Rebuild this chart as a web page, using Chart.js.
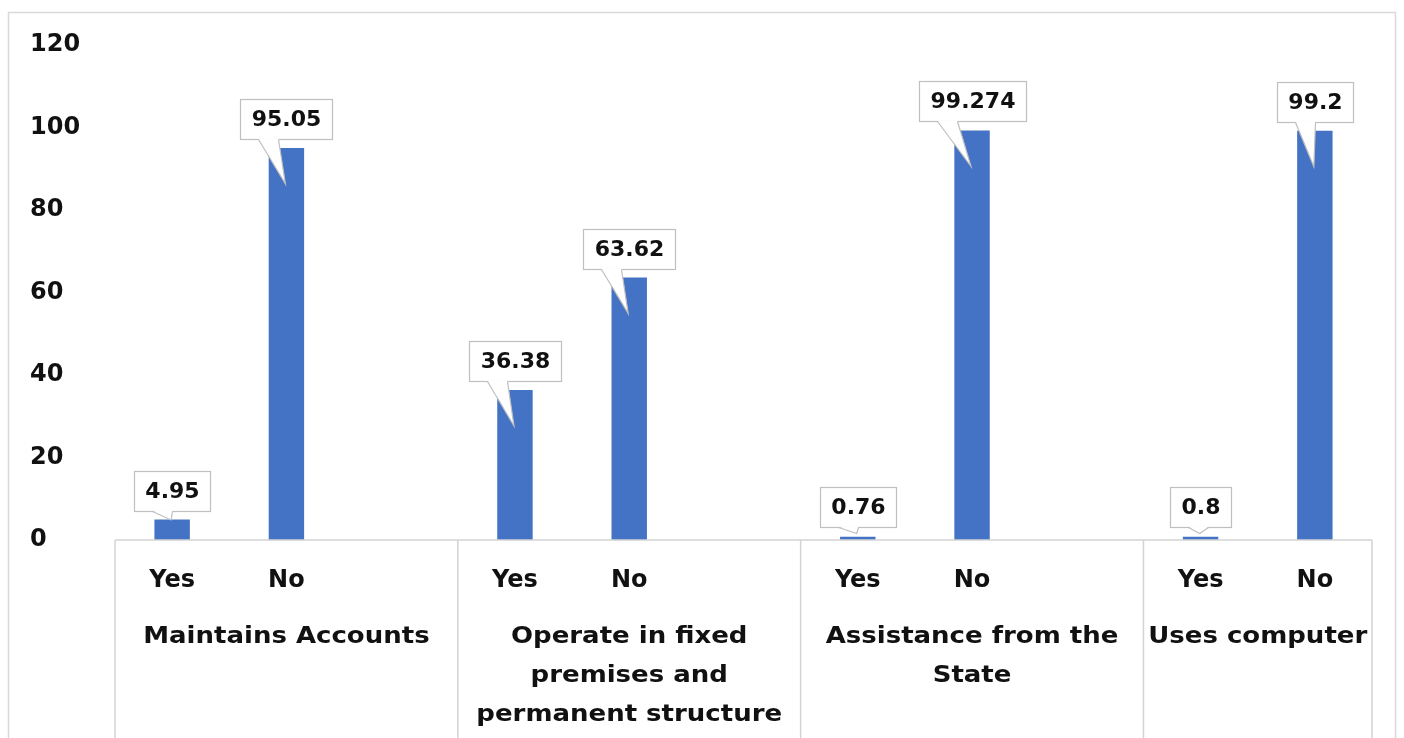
<!DOCTYPE html>
<html>
<head>
<meta charset="utf-8">
<script src="https://cdn.jsdelivr.net/npm/chart.js@4.4.1/dist/chart.umd.min.js"></script>
<style>
  body { margin: 0; background: #fff; }
  #wrap { width: 1404px; height: 738px; }
</style>
</head>
<body>
<div id="wrap"><canvas id="myChart" width="1404" height="738"></canvas></div>
<script>
let ctx = document.getElementById("myChart").getContext("2d");

// one slot per answer; the blank slot leaves a gap at the end of a group
let answers = ["Yes", "No", "", "Yes", "No", "", "Yes", "No", "", "Yes", "No"];
let shares = [4.95, 95.05, null, 36.38, 63.62, null, 0.76, 99.274, null, 0.8, 99.2];
let groupSpans = [3, 3, 3, 2];
let groupNames = [
  ["Maintains Accounts"],
  ["Operate in fixed", "premises and", "permanent structure"],
  ["Assistance from the", "State"],
  ["Uses computer"],
];

let fontFamily = "'DejaVu Sans', sans-serif";
let font = { family: fontFamily, weight: "bold", size: 22 };
let tickFont = { family: fontFamily, weight: "bold", size: 24 };
let textColor = "#111";
let lineColor = "#d4d4d4";
let barColor = "#4472c4";

// white page with the thin outer frame
const frame = {
  id: "frame",
  beforeDraw(chart) {
    const c = chart.ctx;
    c.save();
    c.fillStyle = "#fff";
    c.fillRect(0, 0, chart.width, chart.height);
    c.strokeStyle = "#d9d9d9";
    c.lineWidth = 1.5;
    c.strokeRect(8.5, 12.5, chart.width - 17, chart.height + 20);
    c.restore();
  },
};

// axis line, group separators and the group names under Yes / No
const groupAxis = {
  id: "groupAxis",
  afterDraw(chart) {
    const x = chart.scales.x;
    const area = chart.chartArea;
    const slot = x.width / answers.length;
    const c = chart.ctx;
    let edges = [];
    let start = 0;
    groupSpans.forEach((n) => {
      edges.push(x.getPixelForValue(start) - slot / 2);
      start += n;
    });
    edges.push(x.getPixelForValue(start - 1) + slot / 2);

    c.save();
    c.strokeStyle = lineColor;
    c.lineWidth = 1.5;
    c.beginPath();
    c.moveTo(area.left, area.bottom);
    c.lineTo(area.right, area.bottom);
    edges.forEach((e) => {
      c.moveTo(e, area.bottom);
      c.lineTo(e, chart.height);
    });
    c.stroke();

    // the names run a bit wider than the font, so stretch them sideways
    const stretch = 1.13;
    c.font = `bold 23px ${fontFamily}`;
    c.fillStyle = textColor;
    c.textAlign = "center";
    c.textBaseline = "middle";
    groupNames.forEach((lines, i) => {
      const mid = (edges[i] + edges[i + 1]) / 2;
      lines.forEach((t, j) => {
        c.save();
        c.translate(mid, area.bottom + 97 + j * 39);
        c.scale(stretch, 1);
        c.fillText(t, 0, 0);
        c.restore();
      });
    });
    c.restore();
  },
};

// value labels in callout boxes pointing at each bar
const callouts = {
  id: "callouts",
  afterDatasetsDraw(chart) {
    const c = chart.ctx;
    const base = chart.scales.y.getPixelForValue(0);
    const meta = chart.getDatasetMeta(0);
    c.save();
    c.font = `bold ${font.size}px ${fontFamily}`;
    meta.data.forEach((bar, i) => {
      const v = shares[i];
      if (v == null) return;
      const text = String(v);
      const w = Math.round(c.measureText(text).width + 22);
      const h = 40;
      const bottom = Math.round(Math.min(bar.y - 9, base - 13)) + 0.5;
      const top = bottom - h;
      const left = Math.round(bar.x - w / 2) + 0.5;
      const tipX = bar.x - 1;
      const tipY = Math.max(bottom + 6, Math.min(bar.y + 36, base - 20));
      const x1 = left + 18;
      const x2 = left + 38;

      c.fillStyle = "#fff";
      c.strokeStyle = "#bfbfbf";
      c.lineWidth = 1.2;
      c.fillRect(left, top, w, h);
      c.strokeRect(left, top, w, h);

      c.beginPath();
      c.moveTo(x1, bottom - 1);
      c.lineTo(tipX, tipY);
      c.lineTo(x2, bottom - 1);
      c.closePath();
      c.fill();
      c.beginPath();
      c.moveTo(x1, bottom);
      c.lineTo(tipX, tipY);
      c.lineTo(x2, bottom);
      c.stroke();

      c.fillStyle = textColor;
      c.textAlign = "center";
      c.textBaseline = "middle";
      c.fillText(text, left + w / 2, top + h / 2 + 1);
    });
    c.restore();
  },
};

let myChart = new Chart(ctx, {
  type: "bar",
  data: {
    labels: answers,
    datasets: [
      {
        data: shares,
        backgroundColor: barColor,
        categoryPercentage: 1,
        barPercentage: 0.31,
      },
    ],
  },
  options: {
    responsive: false,
    animation: false,
    layout: { padding: { top: 45, left: 30, right: 32, bottom: 0 } },
    plugins: {
      legend: { display: false },
      tooltip: { enabled: false },
    },
    scales: {
      x: {
        grid: { display: false, drawTicks: false },
        border: { display: false },
        ticks: { color: textColor, font: tickFont, padding: 26, maxRotation: 0, autoSkip: false },
        afterFit: (scale) => {
          scale.height = 198;
        },
      },
      y: {
        min: 0,
        max: 120,
        grid: { display: false, drawTicks: false },
        border: { display: false },
        ticks: { stepSize: 20, color: textColor, font: tickFont, crossAlign: "far", padding: 0 },
        afterFit: (scale) => {
          scale.width = 85;
        },
      },
    },
  },
  plugins: [frame, groupAxis, callouts],
});
</script>
</body>
</html>
